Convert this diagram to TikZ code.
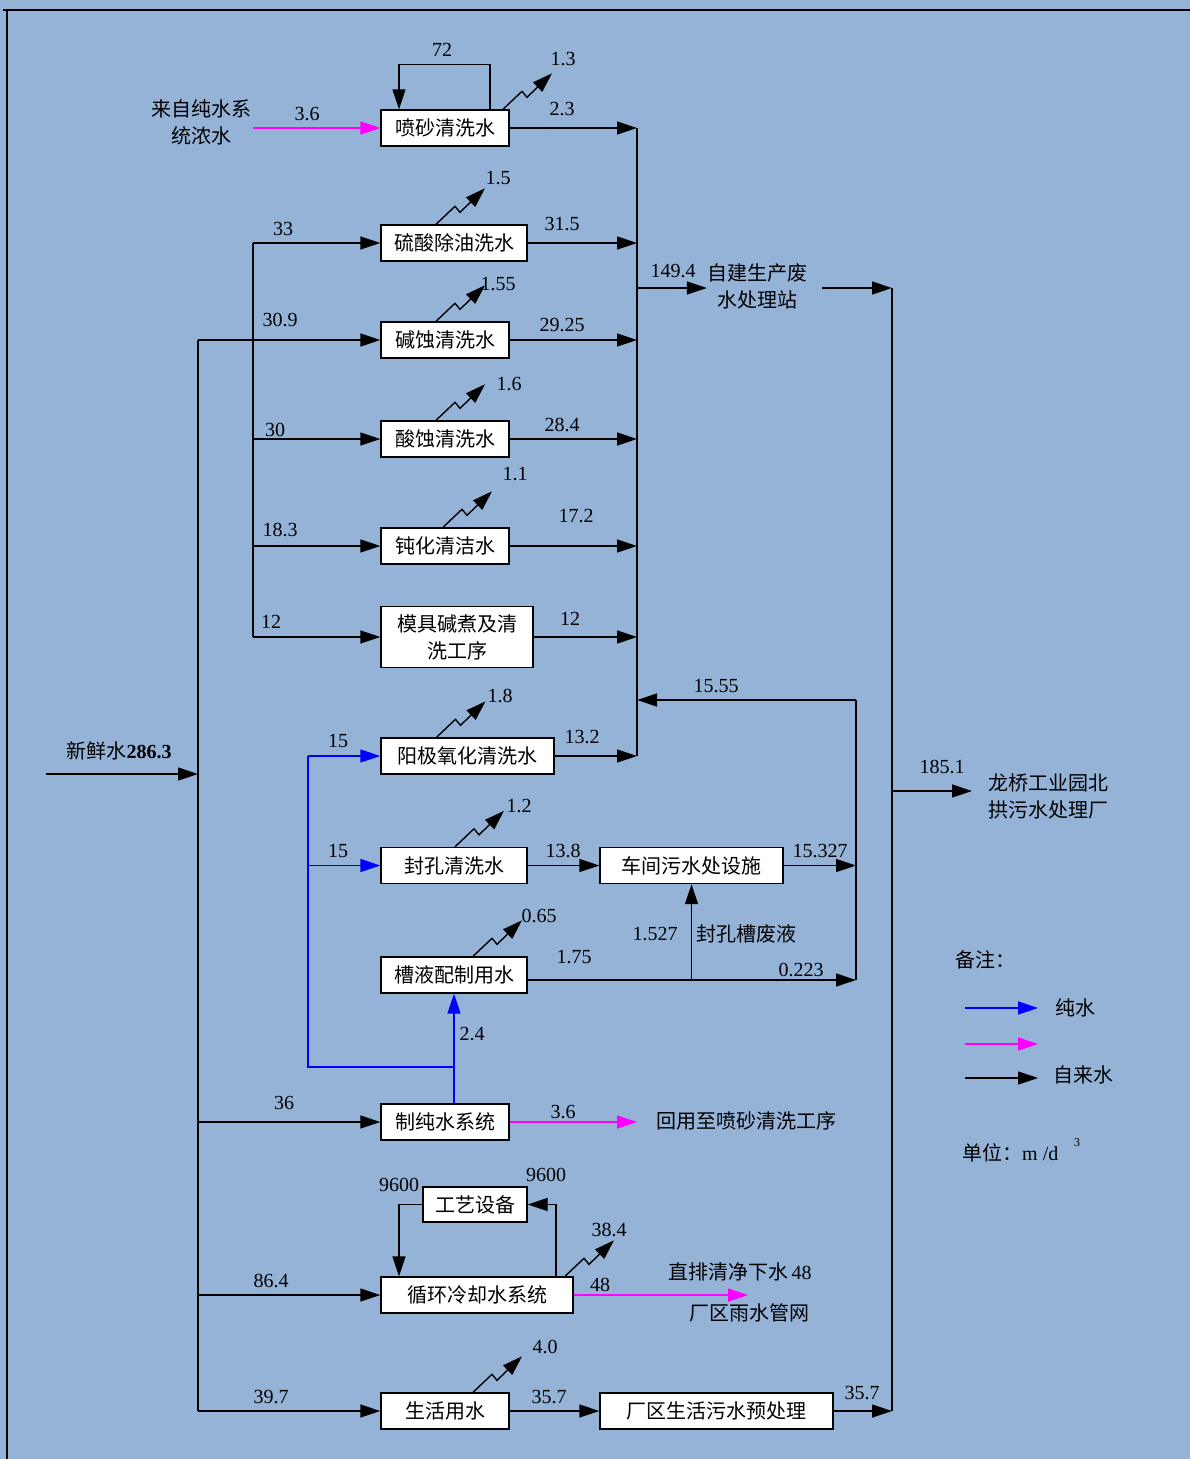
\documentclass[tikz,border=0pt]{standalone}
\usepackage{fontspec}
\setmainfont{Liberation Serif}
\newfontfamily\cjk{Noto Sans CJK SC}
\usetikzlibrary{arrows.meta}
\definecolor{bg}{RGB}{149,179,215}
\definecolor{mag}{RGB}{255,0,255}
\definecolor{pblue}{RGB}{0,0,255}
\tikzset{
  box/.style={draw=black, line width=1.4pt, fill=white, inner sep=0pt, minimum height=36pt,
    font=\cjk\fontsize{20}{27}\selectfont, align=center},
  num/.style={font=\fontsize{20}{24}\selectfont, inner sep=0pt},
  lbl/.style={font=\cjk\fontsize{20}{27}\selectfont, inner sep=0pt, align=center},
  tip/.style={-{Triangle[length=20pt,width=13pt]}},
  plain/.style={line width=1.4pt, black},
  flow/.style={plain, tip},
  bline/.style={line width=1.4pt, pblue},
  bflow/.style={bline, tip},
  mflow/.style={line width=1.4pt, mag, tip},
  evap/.style={flow, line join=miter},
}
\newcommand\evapfrom[2]{\draw[evap] ([xshift=#2pt]#1.north) -- ++(19,-18) -- ++(5,6) -- ++(25,-24);}
\begin{document}
\begin{tikzpicture}[x=1pt,y=-1pt]
\fill[bg] (0,0) rectangle (1190,1459);
\useasboundingbox (0,0) rectangle (1190,1459);
\draw[line width=2pt, black] (3,10) -- (1190,10);
\draw[line width=2pt, black] (7,10) -- (7,1459);

% ---------- boxes ----------
\node[box, minimum width=128pt] (pen)  at (445,128)    {喷砂清洗水};
\node[box, minimum width=146pt] (liu)  at (454,243)    {硫酸除油洗水};
\node[box, minimum width=128pt] (jian) at (445,340)    {碱蚀清洗水};
\node[box, minimum width=128pt] (suan) at (445,439)    {酸蚀清洗水};
\node[box, minimum width=128pt] (dun)  at (445,546)    {钝化清洁水};
\node[box, minimum width=152pt, minimum height=61pt] (mu) at (457,637) {模具碱煮及清\\洗工序};
\node[box, minimum width=173pt] (yang) at (467.5,756)  {阳极氧化清洗水};
\node[box, minimum width=146pt] (feng) at (454,865.5)  {封孔清洗水};
\node[box, minimum width=183pt] (che)  at (691.5,865.5){车间污水处设施};
\node[box, minimum width=146pt] (cao)  at (454,975)    {槽液配制用水};
\node[box, minimum width=128pt] (zhi)  at (445,1122)   {制纯水系统};
\node[box, minimum width=104pt, minimum height=35pt] (gy) at (475,1204.5) {工艺设备};
\node[box, minimum width=192pt] (xh)   at (477,1295)   {循环冷却水系统};
\node[box, minimum width=128pt] (sh)   at (445,1411)   {生活用水};
\node[box, minimum width=233pt] (cq)   at (716.5,1411) {厂区生活污水预处理};

% ---------- text labels ----------
\node[lbl] (src) at (201,122) {来自纯水系\\统浓水};
\node[lbl] (ww)  at (757,286) {自建生产废\\水处理站};
\node[lbl, align=left, anchor=west] (lq) at (988,796) {龙桥工业园北\\拱污水处理厂};
\node[lbl] (fcy) at (746,934) {封孔槽废液};
\node[lbl] (hy)  at (746,1121) {回用至喷砂清洗工序};
\node[lbl] (zp)  at (740,1272) {直排清净下水\,{\rmfamily 48}};
\node[lbl] (ys)  at (749,1313) {厂区雨水管网};
\node[lbl] (fresh) at (119,751) {新鲜水{\rmfamily\bfseries 286.3}};

% ---------- coordinates ----------
\coordinate (colTop) at (637,128);
\coordinate (colBot) at (637,756);
\coordinate (tTop) at (198,340);
\coordinate (tBot) at (198,1411);
\coordinate (sTop) at (253,243);
\coordinate (sBot) at (253,637);
\coordinate (rw) at (253,128);
\coordinate (fw) at (46,774);
\coordinate (c149) at (637,288);
\coordinate (wwo) at (822,288);
\coordinate (vTop) at (892,288);
\coordinate (vBot) at (892,1411);
\coordinate (lqs) at (892,791);
\coordinate (rTop) at (856,700);
\coordinate (rBot) at (856,980);
\coordinate (bt) at (308,756);
\coordinate (bj) at (454,1067);
\coordinate (hyend) at (637,1122);
\coordinate (ysend) at (748,1295);

% ---------- main lines ----------
\draw[plain] (tTop) -- (tBot);
\draw[flow] (fw) -- (fw -| tTop);
\draw[flow] (tTop) -- (jian.west);
\draw[flow] (tTop |- zhi.west) -- (zhi.west);
\draw[flow] (tTop |- xh.west) -- (xh.west);
\draw[flow] (tBot) -- (sh.west);

\draw[plain] (sTop) -- (sBot);
\draw[flow] (sTop) -- (liu.west);
\draw[flow] (sTop |- suan.west) -- (suan.west);
\draw[flow] (sTop |- dun.west) -- (dun.west);
\draw[flow] (sBot) -- (mu.west);

\draw[mflow] (rw) -- (pen.west);

\draw[plain] (colTop) -- (colBot);
\draw[flow] (pen.east) -- (pen.east -| colTop);
\draw[flow] (liu.east) -- (liu.east -| colTop);
\draw[flow] (jian.east) -- (jian.east -| colTop);
\draw[flow] (suan.east) -- (suan.east -| colTop);
\draw[flow] (dun.east) -- (dun.east -| colTop);
\draw[flow] (mu.east) -- (mu.east -| colTop);
\draw[flow] (yang.east) -- (colBot);

\draw[flow] (c149) -- (c149 -| ww.west);
\draw[flow] (wwo) -- (vTop);
\draw[plain] (vTop) -- (vBot);
\draw[flow] (lqs) -- ([xshift=-16pt]lqs -| lq.west);

% right loop
\draw[plain] (rTop) -- (rBot);
\draw[flow] (rTop) -- (rTop -| colTop);
\draw[flow] (che.east) -- (che.east -| rTop);
\draw[flow] (feng.east) -- (che.west);
\draw[flow] (cao.east |- rBot) -- (rBot);
\draw[flow] (che.south |- rBot) -- (che.south);

% blue pure water
\draw[bflow] ([xshift=9pt]zhi.north) -- (cao.south);
\draw[bline] (bj) -| (bt);
\draw[bflow] (bt) -- (yang.west);
\draw[bflow] (bt |- feng.west) -- (feng.west);

% magenta outputs
\draw[mflow] (zhi.east) -- (hyend);
\draw[mflow] (xh.east) -- (ysend);

% bottom
\draw[flow] (sh.east) -- (cq.west);
\draw[flow] (cq.east) -- (vBot);

% loops
\draw[flow] ([xshift=45pt]pen.north) -- ++(0,-45) -| ([xshift=-46pt]pen.north);
\draw[flow] (gy.west) -| ([xshift=-78pt]xh.north);
\draw[flow] ([xshift=79pt]xh.north) |- (gy.east);

% evaporation
\evapfrom{pen}{58}
\evapfrom{liu}{-18}
\evapfrom{jian}{-9}
\evapfrom{suan}{-9}
\evapfrom{dun}{-2}
\evapfrom{yang}{-31}
\evapfrom{feng}{1}
\evapfrom{cao}{19}
\evapfrom{xh}{88}
\evapfrom{sh}{28}

% ---------- numbers ----------
\node[num] (n72) at (442,50) {72};
\node[num] (n13) at (563,59) {1.3};
\node[num] (n36a) at (307,114) {3.6};
\node[num] (n23) at (562,109) {2.3};
\node[num] (n15a) at (498,178) {1.5};
\node[num] (n33) at (283,229) {33};
\node[num] (n315) at (562,224) {31.5};
\node[num] (n155) at (498,284) {1.55};
\node[num] (n309) at (280,320) {30.9};
\node[num] (n2925) at (562,325) {29.25};
\node[num] (n1494) at (673,271) {149.4};
\node[num] (n16) at (509,384) {1.6};
\node[num] (n30) at (275,430) {30};
\node[num] (n284) at (562,425) {28.4};
\node[num] (n11) at (515,474) {1.1};
\node[num] (n183) at (280,530) {18.3};
\node[num] (n172) at (576,516) {17.2};
\node[num] (n12a) at (271,622) {12};
\node[num] (n12b) at (570,619) {12};
\node[num] (n18) at (500,696) {1.8};
\node[num] (n1555) at (716,686) {15.55};
\node[num] (n15b) at (338,741) {15};
\node[num] (n132) at (582,737) {13.2};
\node[num] (n1851) at (942,767) {185.1};
\node[num] (n12c) at (519,806) {1.2};
\node[num] (n15c) at (338,851) {15};
\node[num] (n138) at (563,851) {13.8};
\node[num] (n15327) at (820,851) {15.327};
\node[num] (n065) at (539,916) {0.65};
\node[num] (n1527) at (655,934) {1.527};
\node[num] (n175) at (574,957) {1.75};
\node[num] (n0223) at (801,970) {0.223};
\node[num] (n24) at (472,1034) {2.4};
\node[num] (n36) at (284,1103) {36};
\node[num] (n36b) at (563,1112) {3.6};
\node[num] (n9600a) at (399,1185) {9600};
\node[num] (n9600b) at (546,1175) {9600};
\node[num] (n384) at (609,1230) {38.4};
\node[num] (n864) at (271,1281) {86.4};
\node[num] (n48) at (600,1285) {48};
\node[num] (n40) at (545,1347) {4.0};
\node[num] (n397) at (271,1397) {39.7};
\node[num] (n357a) at (549,1397) {35.7};
\node[num] (n357b) at (862,1393) {35.7};

% ---------- legend ----------
\node[lbl] (bz) at (985,960) {备注：};
\coordinate (l1a) at (965,1008); \coordinate (l1b) at (1038,1008);
\coordinate (l2a) at (965,1044); \coordinate (l2b) at (1038,1044);
\coordinate (l3a) at (965,1078); \coordinate (l3b) at (1038,1078);
\draw[bflow] (l1a) -- (l1b);
\draw[mflow] (l2a) -- (l2b);
\draw[flow] (l3a) -- (l3b);
\node[lbl] (lcs) at (1075,1008) {纯水};
\node[lbl] (lzl) at (1083,1075) {自来水};
\node[lbl, anchor=west] (unit) at (962,1153) {单位：{\rmfamily m /d}};
\node[num, font=\fontsize{12}{14}\selectfont] (sup3) at (1077,1143) {3};
\end{tikzpicture}
\end{document}
